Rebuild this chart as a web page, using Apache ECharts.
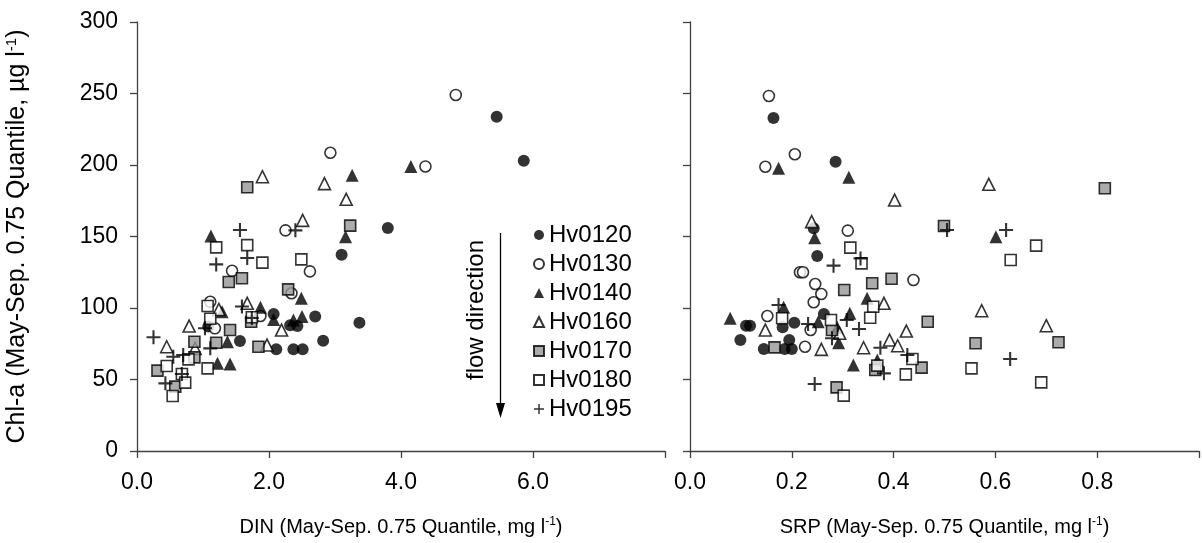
<!DOCTYPE html>
<html><head><meta charset="utf-8">
<script src="https://cdn.jsdelivr.net/npm/echarts@6/dist/echarts.min.js"></script>
<style>html,body{margin:0;padding:0;background:#fff}#c{width:1202px;height:543px}</style>
</head><body><div id="c"></div>
<script>
const stations = ['Hv0120','Hv0130','Hv0140','Hv0160','Hv0170','Hv0180','Hv0195'];
const dinTicks = ['0.0','2.0','4.0','6.0'];
const srpTicks = ['0.0','0.2','0.4','0.6','0.8'];
const chlTicks = ['0','50','100','150','200','250','300'];

// DIN (mg/l) vs Chl-a (ug/l)
const din_Hv0120 = [[1.56,77],[1.08,87],[2.07,95.8],[2.32,88],[2.43,87.4],[2.70,94],[3.37,89.7],[2.82,77.1],[2.11,71.1],[2.37,71.1],[2.51,71.1],[3.10,137.3],[3.80,156],[5.45,233.8],[5.86,203]];
const din_Hv0130 = [[2.93,208.6],[4.37,199],[4.83,249],[2.25,154.3],[2.62,125.6],[2.34,110.3],[1.87,94.4],[1.44,126],[1.11,104.4],[1.18,85.8]];
const din_Hv0140 = [[4.15,199],[3.26,192.8],[3.16,149.9],[1.12,150.3],[2.49,106.8],[1.87,100.5],[1.29,97.4],[2.07,92],[2.37,91.6],[2.50,94],[1.37,76.4],[1.22,61.3],[1.41,60.8]];
const din_Hv0160 = [[1.90,191.8],[2.84,187],[3.17,176],[2.51,161.3],[1.67,103.3],[2.19,84.6],[1.97,74.1],[1.24,99],[0.79,87.4],[0.88,71.8],[0.45,72.9]];
const din_Hv0170 = [[1.67,184.4],[3.23,157.6],[1.59,120.8],[2.29,113],[1.73,90.4],[1.84,72.9],[1.39,118.2],[1.41,84.6],[1.20,75.7],[0.87,76.4],[0.87,65.5],[0.31,56.2],[0.58,45]];
const din_Hv0180 = [[1.67,144],[1.90,131.7],[2.49,134],[1.74,93.5],[1.20,142.4],[1.07,101.4],[1.11,92.5],[0.78,64.1],[0.45,59.4],[1.07,57.8],[0.68,53.8],[0.73,47.8],[0.54,38.5]];
const din_Hv0195 = [[2.40,154.3],[1.56,154.5],[1.67,135],[1.59,101],[1.74,93],[1.20,130.5],[1.03,85.8],[1.11,71.8],[0.25,79.5],[0.55,65.9],[0.70,67.1],[0.68,53.8],[0.43,47.3]];

// SRP (mg/l) vs Chl-a (ug/l)
const srp_Hv0120 = [[0.164,232.9],[0.286,202.3],[0.243,155.7],[0.250,136.4],[0.110,87.6],[0.118,87.6],[0.099,77.6],[0.145,71.3],[0.186,71.3],[0.200,71.3],[0.195,77.6],[0.182,86.5],[0.205,89.7],[0.263,95.8]];
const srp_Hv0130 = [[0.155,248.3],[0.206,207.5],[0.148,198.8],[0.310,154.1],[0.216,125],[0.222,125],[0.246,116.8],[0.258,109.8],[0.243,104],[0.152,94.4],[0.226,72.9],[0.237,84.6],[0.439,119.6]];
const srp_Hv0140 = [[0.174,197.7],[0.312,191.4],[0.245,149.2],[0.348,106.8],[0.079,92.8],[0.184,100.5],[0.252,90.4],[0.289,86.5],[0.292,75.7],[0.314,96.3],[0.321,60.1],[0.368,63.6],[0.601,149.9]];
const srp_Hv0160 = [[0.239,160.4],[0.381,103.3],[0.148,84.6],[0.258,71.1],[0.294,82.3],[0.341,72.2],[0.402,175.5],[0.587,186.5],[0.573,98.1],[0.700,87.6],[0.425,83.9],[0.392,77.6],[0.408,73.6]];
const srp_Hv0170 = [[0.303,112.6],[0.358,117.3],[0.166,72.5],[0.279,84.6],[0.364,56.6],[0.288,44.5],[0.815,183.7],[0.499,157.3],[0.396,120.5],[0.467,90.4],[0.561,75.3],[0.724,76],[0.455,58.3]];
const srp_Hv0180 = [[0.315,142.2],[0.337,131.2],[0.360,100.9],[0.354,93.2],[0.181,92.8],[0.277,91.6],[0.368,59.7],[0.302,38.7],[0.680,143.6],[0.630,133.6],[0.437,64.3],[0.424,53.6],[0.553,57.8],[0.690,48]];
const srp_Hv0195 = [[0.335,134.7],[0.282,129.6],[0.174,102.1],[0.232,88.8],[0.279,78.8],[0.308,91.6],[0.332,85.3],[0.374,72.2],[0.381,54.3],[0.245,46.9],[0.505,154.5],[0.621,154.5],[0.629,64.3],[0.427,67.1]];

const dinData = [din_Hv0120,din_Hv0130,din_Hv0140,din_Hv0160,din_Hv0170,din_Hv0180,din_Hv0195];
const srpData = [srp_Hv0120,srp_Hv0130,srp_Hv0140,srp_Hv0160,srp_Hv0170,srp_Hv0180,srp_Hv0195];

const FONT = '"Liberation Sans", Arial, Helvetica, sans-serif';
const PLUS = 'path://M5.1,0H6.9V5.1H12V6.9H6.9V12H5.1V6.9H0V5.1H5.1Z';
const styles = [
  {symbol:'circle', size:12, item:{color:'#000', borderColor:'#000', borderWidth:0}},
  {symbol:'circle', size:11, item:{color:'#fff', borderColor:'#000', borderWidth:1.6}},
  {symbol:'triangle', size:13, item:{color:'#000', borderColor:'#000', borderWidth:0}},
  {symbol:'triangle', size:12, item:{color:'#fff', borderColor:'#000', borderWidth:1.6}},
  {symbol:'rect', size:11, item:{color:'#969696', borderColor:'#000', borderWidth:1.6}},
  {symbol:'rect', size:11, item:{color:'#fff', borderColor:'#000', borderWidth:1.6}},
  {symbol:PLUS, size:14, item:{color:'#000', borderWidth:0}}
];

const axisCommon = {
  axisLine:{show:true, onZero:false, lineStyle:{color:'#404040', width:1.3}},
  axisTick:{show:true, inside:false, length:7, lineStyle:{color:'#404040', width:1.3}},
  splitLine:{show:false},
  axisLabel:{color:'#000', fontSize:23, fontFamily:FONT}
};
function richName(main, sup){ return '{t|'+main+'}{s|'+sup+'}{t|)}'; }
const nameRichX = {t:{fontSize:20, fontFamily:FONT, color:'#000'}, s:{fontSize:12, fontFamily:FONT, color:'#000', padding:[0,0,10,0]}};
const nameRichY = {t:{fontSize:25, fontFamily:FONT, color:'#000'}, s:{fontSize:15, fontFamily:FONT, color:'#000', padding:[0,0,12,0]}};

const series = [];
stations.forEach((st,i)=>{
  const s = styles[i];
  series.push({name:st, type:'scatter', xAxisIndex:0, yAxisIndex:0, data:dinData[i], symbol:s.symbol, symbolSize:s.size, itemStyle:s.item, z:2+i});
  series.push({name:st, type:'scatter', xAxisIndex:1, yAxisIndex:1, data:srpData[i], symbol:s.symbol, symbolSize:s.size, itemStyle:s.item, z:2+i});
});

const chart = echarts.init(document.getElementById('c'), null, {renderer:'canvas'});
chart.setOption({
  animation:false,
  backgroundColor:'#fff',
  textStyle:{fontFamily:FONT},
  grid:[{left:137, top:22, width:528, height:429}, {left:690, top:22, width:517, height:429}],
  xAxis:[
    Object.assign({}, axisCommon, {gridIndex:0, type:'value', min:0, max:8, interval:2,
      axisLabel:Object.assign({}, axisCommon.axisLabel, {margin:20, formatter:v=>{const i=Math.round(v/2); return dinTicks[i]||'';}}),
      name:richName('DIN (May-Sep. 0.75 Quantile, mg l','-1'), nameLocation:'middle', nameGap:65, nameTextStyle:{rich:nameRichX}}),
    Object.assign({}, axisCommon, {gridIndex:1, type:'value', min:0, max:1, interval:0.2,
      axisLabel:Object.assign({}, axisCommon.axisLabel, {margin:20, formatter:v=>{const i=Math.round(v/0.2); return srpTicks[i]||'';}}),
      name:richName('SRP (May-Sep. 0.75 Quantile, mg l','-1'), nameLocation:'middle', nameGap:65, nameTextStyle:{rich:nameRichX}})
  ],
  yAxis:[
    Object.assign({}, axisCommon, {gridIndex:0, type:'value', min:0, max:300, interval:50,
      axisLabel:Object.assign({}, axisCommon.axisLabel, {margin:19, formatter:v=>chlTicks[Math.round(v/50)]}),
      name:richName('Chl-a (May-Sep. 0.75 Quantile, µg l','-1'), nameLocation:'middle', nameGap:106, nameRotate:90, nameTextStyle:{rich:nameRichY}}),
    Object.assign({}, axisCommon, {gridIndex:1, type:'value', min:0, max:300, interval:50,
      axisLabel:{show:false}})
  ],
  legend:{
    orient:'vertical', left:528, top:218, itemWidth:10, itemHeight:10, itemGap:5,
    data:stations, selectedMode:false,
    textStyle:{fontSize:24, fontFamily:FONT, color:'#000'}
  },
  graphic:[
    {type:'text', x:476, y:310, rotation:Math.PI/2, style:{text:'flow direction', font:'24px '+FONT, fill:'#000', align:'center', verticalAlign:'middle'}},
    {type:'line', shape:{x1:500.5, y1:233, x2:500.5, y2:405}, style:{stroke:'#000', lineWidth:1.3}},
    {type:'polygon', shape:{points:[[496,403],[505,403],[500.5,418]]}, style:{fill:'#000'}}
  ],
  series:series
});
</script></body></html>
